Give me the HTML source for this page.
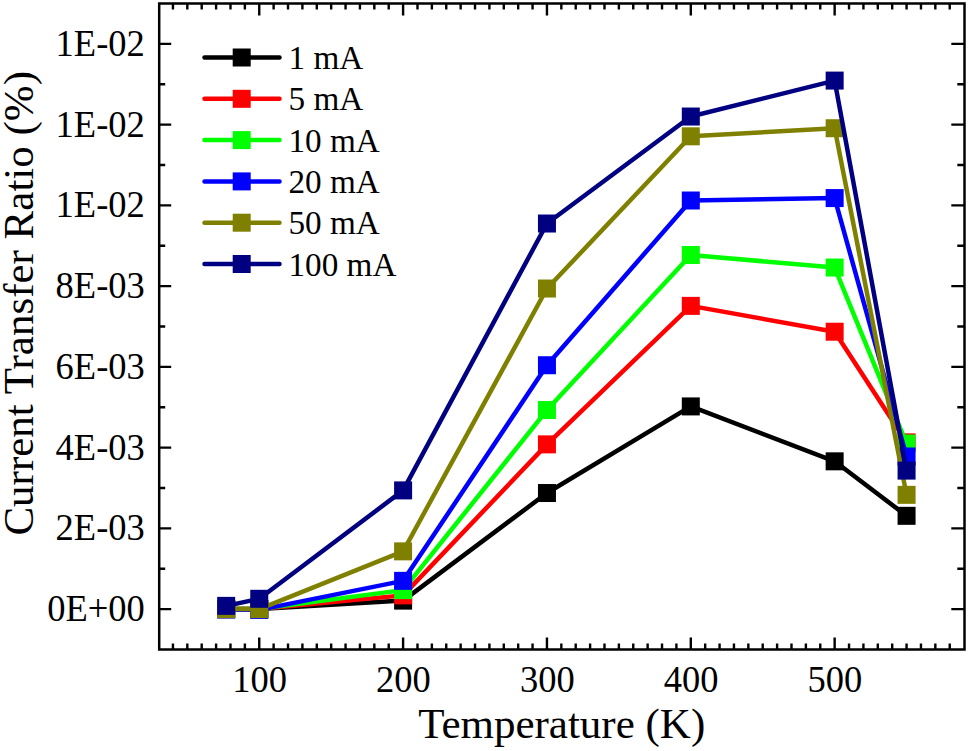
<!DOCTYPE html><html><head><meta charset="utf-8"><style>html,body{margin:0;padding:0;background:#fff;}svg{display:block;}text{font-family:"Liberation Serif",serif;fill:#000;}</style></head><body>
<svg width="968" height="751" viewBox="0 0 968 751">
<rect width="968" height="751" fill="#fff"/>
<path d="M172.94 649.50V643.50M172.94 3.50V9.50M187.32 649.50V643.50M187.32 3.50V9.50M201.71 649.50V643.50M201.71 3.50V9.50M216.09 649.50V643.50M216.09 3.50V9.50M230.48 649.50V643.50M230.48 3.50V9.50M244.87 649.50V643.50M244.87 3.50V9.50M259.25 649.50V637.50M259.25 3.50V15.50M273.63 649.50V643.50M273.63 3.50V9.50M288.02 649.50V643.50M288.02 3.50V9.50M302.40 649.50V643.50M302.40 3.50V9.50M316.79 649.50V643.50M316.79 3.50V9.50M331.17 649.50V643.50M331.17 3.50V9.50M345.56 649.50V643.50M345.56 3.50V9.50M359.94 649.50V643.50M359.94 3.50V9.50M374.33 649.50V643.50M374.33 3.50V9.50M388.72 649.50V643.50M388.72 3.50V9.50M403.10 649.50V637.50M403.10 3.50V15.50M417.49 649.50V643.50M417.49 3.50V9.50M431.87 649.50V643.50M431.87 3.50V9.50M446.25 649.50V643.50M446.25 3.50V9.50M460.64 649.50V643.50M460.64 3.50V9.50M475.02 649.50V643.50M475.02 3.50V9.50M489.41 649.50V643.50M489.41 3.50V9.50M503.79 649.50V643.50M503.79 3.50V9.50M518.18 649.50V643.50M518.18 3.50V9.50M532.56 649.50V643.50M532.56 3.50V9.50M546.95 649.50V637.50M546.95 3.50V15.50M561.33 649.50V643.50M561.33 3.50V9.50M575.72 649.50V643.50M575.72 3.50V9.50M590.11 649.50V643.50M590.11 3.50V9.50M604.49 649.50V643.50M604.49 3.50V9.50M618.88 649.50V643.50M618.88 3.50V9.50M633.26 649.50V643.50M633.26 3.50V9.50M647.64 649.50V643.50M647.64 3.50V9.50M662.03 649.50V643.50M662.03 3.50V9.50M676.41 649.50V643.50M676.41 3.50V9.50M690.80 649.50V637.50M690.80 3.50V15.50M705.18 649.50V643.50M705.18 3.50V9.50M719.57 649.50V643.50M719.57 3.50V9.50M733.95 649.50V643.50M733.95 3.50V9.50M748.34 649.50V643.50M748.34 3.50V9.50M762.72 649.50V643.50M762.72 3.50V9.50M777.11 649.50V643.50M777.11 3.50V9.50M791.49 649.50V643.50M791.49 3.50V9.50M805.88 649.50V643.50M805.88 3.50V9.50M820.26 649.50V643.50M820.26 3.50V9.50M834.65 649.50V637.50M834.65 3.50V15.50M849.03 649.50V643.50M849.03 3.50V9.50M863.42 649.50V643.50M863.42 3.50V9.50M877.80 649.50V643.50M877.80 3.50V9.50M892.19 649.50V643.50M892.19 3.50V9.50M906.57 649.50V643.50M906.57 3.50V9.50M920.96 649.50V643.50M920.96 3.50V9.50M935.34 649.50V643.50M935.34 3.50V9.50M949.73 649.50V643.50M949.73 3.50V9.50M159.20 609.10H171.20M964.50 609.10H951.30M159.20 568.73H165.20M964.50 568.73H957.30M159.20 528.35H171.20M964.50 528.35H951.30M159.20 487.98H165.20M964.50 487.98H957.30M159.20 447.60H171.20M964.50 447.60H951.30M159.20 407.23H165.20M964.50 407.23H957.30M159.20 366.85H171.20M964.50 366.85H951.30M159.20 326.48H165.20M964.50 326.48H957.30M159.20 286.10H171.20M964.50 286.10H951.30M159.20 245.73H165.20M964.50 245.73H957.30M159.20 205.35H171.20M964.50 205.35H951.30M159.20 164.98H165.20M964.50 164.98H957.30M159.20 124.60H171.20M964.50 124.60H951.30M159.20 84.23H165.20M964.50 84.23H957.30M159.20 43.85H171.20M964.50 43.85H951.30" stroke="#000" stroke-width="2.4" fill="none"/>
<rect x="159.2" y="3.5" width="805.30" height="646.0" fill="none" stroke="#000" stroke-width="2.5"/>
<text transform="translate(259.55 692.3) scale(1 1.05)" font-size="36.5" text-anchor="middle">100</text>
<text transform="translate(403.40 692.3) scale(1 1.05)" font-size="36.5" text-anchor="middle">200</text>
<text transform="translate(547.25 692.3) scale(1 1.05)" font-size="36.5" text-anchor="middle">300</text>
<text transform="translate(691.10 692.3) scale(1 1.05)" font-size="36.5" text-anchor="middle">400</text>
<text transform="translate(834.95 692.3) scale(1 1.05)" font-size="36.5" text-anchor="middle">500</text>
<text transform="translate(144.8 621.00) scale(1 1.045)" font-size="36.5" text-anchor="end">0E+00</text>
<text transform="translate(144.8 540.25) scale(1 1.045)" font-size="36.5" text-anchor="end">2E-03</text>
<text transform="translate(144.8 459.50) scale(1 1.045)" font-size="36.5" text-anchor="end">4E-03</text>
<text transform="translate(144.8 378.75) scale(1 1.045)" font-size="36.5" text-anchor="end">6E-03</text>
<text transform="translate(144.8 298.00) scale(1 1.045)" font-size="36.5" text-anchor="end">8E-03</text>
<text transform="translate(144.8 217.25) scale(1 1.045)" font-size="36.5" text-anchor="end">1E-02</text>
<text transform="translate(144.8 136.50) scale(1 1.045)" font-size="36.5" text-anchor="end">1E-02</text>
<text transform="translate(144.8 55.75) scale(1 1.045)" font-size="36.5" text-anchor="end">1E-02</text>
<text x="561.7" y="738" font-size="43" text-anchor="middle">Temperature (K)</text>
<text transform="translate(33 303.3) rotate(-90)" x="0" y="0" font-size="43" text-anchor="middle">Current Transfer Ratio (%)</text>
<polyline points="226.16,609.10 259.25,609.10 403.10,600.62 546.95,493.02 690.80,406.42 834.65,461.33 906.57,515.83" fill="none" stroke="#000000" stroke-width="4.5" stroke-linejoin="round" stroke-linecap="round"/>
<rect x="217.16" y="600.10" width="18" height="18" fill="#000000"/>
<rect x="250.25" y="600.10" width="18" height="18" fill="#000000"/>
<rect x="394.10" y="591.62" width="18" height="18" fill="#000000"/>
<rect x="537.95" y="484.02" width="18" height="18" fill="#000000"/>
<rect x="681.80" y="397.42" width="18" height="18" fill="#000000"/>
<rect x="825.65" y="452.33" width="18" height="18" fill="#000000"/>
<rect x="897.57" y="506.83" width="18" height="18" fill="#000000"/>
<polyline points="226.16,609.10 259.25,609.10 403.10,595.37 546.95,444.37 690.80,305.88 834.65,331.72 906.57,442.35" fill="none" stroke="#ff0000" stroke-width="4.5" stroke-linejoin="round" stroke-linecap="round"/>
<rect x="217.16" y="600.10" width="18" height="18" fill="#ff0000"/>
<rect x="250.25" y="600.10" width="18" height="18" fill="#ff0000"/>
<rect x="394.10" y="586.37" width="18" height="18" fill="#ff0000"/>
<rect x="537.95" y="435.37" width="18" height="18" fill="#ff0000"/>
<rect x="681.80" y="296.88" width="18" height="18" fill="#ff0000"/>
<rect x="825.65" y="322.72" width="18" height="18" fill="#ff0000"/>
<rect x="897.57" y="433.35" width="18" height="18" fill="#ff0000"/>
<polyline points="226.16,609.10 259.25,609.10 403.10,590.12 546.95,410.05 690.80,255.01 834.65,267.53 906.57,443.56" fill="none" stroke="#00ff00" stroke-width="4.5" stroke-linejoin="round" stroke-linecap="round"/>
<rect x="217.16" y="600.10" width="18" height="18" fill="#00ff00"/>
<rect x="250.25" y="600.10" width="18" height="18" fill="#00ff00"/>
<rect x="394.10" y="581.12" width="18" height="18" fill="#00ff00"/>
<rect x="537.95" y="401.05" width="18" height="18" fill="#00ff00"/>
<rect x="681.80" y="246.01" width="18" height="18" fill="#00ff00"/>
<rect x="825.65" y="258.53" width="18" height="18" fill="#00ff00"/>
<rect x="897.57" y="434.56" width="18" height="18" fill="#00ff00"/>
<polyline points="226.16,609.50 259.25,609.91 403.10,580.84 546.95,365.24 690.80,200.51 834.65,198.08 906.57,456.48" fill="none" stroke="#0000ff" stroke-width="4.5" stroke-linejoin="round" stroke-linecap="round"/>
<rect x="217.16" y="600.50" width="18" height="18" fill="#0000ff"/>
<rect x="250.25" y="600.91" width="18" height="18" fill="#0000ff"/>
<rect x="394.10" y="571.84" width="18" height="18" fill="#0000ff"/>
<rect x="537.95" y="356.24" width="18" height="18" fill="#0000ff"/>
<rect x="681.80" y="191.51" width="18" height="18" fill="#0000ff"/>
<rect x="825.65" y="189.08" width="18" height="18" fill="#0000ff"/>
<rect x="897.57" y="447.48" width="18" height="18" fill="#0000ff"/>
<polyline points="226.16,609.10 259.25,609.10 403.10,551.36 546.95,288.52 690.80,136.31 834.65,128.23 906.57,494.84" fill="none" stroke="#808000" stroke-width="4.5" stroke-linejoin="round" stroke-linecap="round"/>
<rect x="217.16" y="600.10" width="18" height="18" fill="#808000"/>
<rect x="250.25" y="600.10" width="18" height="18" fill="#808000"/>
<rect x="394.10" y="542.36" width="18" height="18" fill="#808000"/>
<rect x="537.95" y="279.52" width="18" height="18" fill="#808000"/>
<rect x="681.80" y="127.31" width="18" height="18" fill="#808000"/>
<rect x="825.65" y="119.23" width="18" height="18" fill="#808000"/>
<rect x="897.57" y="485.84" width="18" height="18" fill="#808000"/>
<polyline points="226.16,605.87 259.25,598.80 403.10,490.40 546.95,223.52 690.80,116.53 834.65,80.59 906.57,470.61" fill="none" stroke="#000080" stroke-width="4.5" stroke-linejoin="round" stroke-linecap="round"/>
<rect x="217.16" y="596.87" width="18" height="18" fill="#000080"/>
<rect x="250.25" y="589.80" width="18" height="18" fill="#000080"/>
<rect x="394.10" y="481.40" width="18" height="18" fill="#000080"/>
<rect x="537.95" y="214.52" width="18" height="18" fill="#000080"/>
<rect x="681.80" y="107.53" width="18" height="18" fill="#000080"/>
<rect x="825.65" y="71.59" width="18" height="18" fill="#000080"/>
<rect x="897.57" y="461.61" width="18" height="18" fill="#000080"/>
<line x1="204.5" y1="57.50" x2="279.5" y2="57.50" stroke="#000000" stroke-width="4.5" stroke-linecap="round"/>
<rect x="232.70" y="48.50" width="18" height="18" fill="#000000"/>
<text transform="translate(288.5 69.00) scale(1 1.04)" font-size="33.2">1 mA</text>
<line x1="204.5" y1="98.80" x2="279.5" y2="98.80" stroke="#ff0000" stroke-width="4.5" stroke-linecap="round"/>
<rect x="232.70" y="89.80" width="18" height="18" fill="#ff0000"/>
<text transform="translate(288.5 110.30) scale(1 1.04)" font-size="33.2">5 mA</text>
<line x1="204.5" y1="140.10" x2="279.5" y2="140.10" stroke="#00ff00" stroke-width="4.5" stroke-linecap="round"/>
<rect x="232.70" y="131.10" width="18" height="18" fill="#00ff00"/>
<text transform="translate(288.5 151.60) scale(1 1.04)" font-size="33.2">10 mA</text>
<line x1="204.5" y1="181.40" x2="279.5" y2="181.40" stroke="#0000ff" stroke-width="4.5" stroke-linecap="round"/>
<rect x="232.70" y="172.40" width="18" height="18" fill="#0000ff"/>
<text transform="translate(288.5 192.90) scale(1 1.04)" font-size="33.2">20 mA</text>
<line x1="204.5" y1="222.70" x2="279.5" y2="222.70" stroke="#808000" stroke-width="4.5" stroke-linecap="round"/>
<rect x="232.70" y="213.70" width="18" height="18" fill="#808000"/>
<text transform="translate(288.5 234.20) scale(1 1.04)" font-size="33.2">50 mA</text>
<line x1="204.5" y1="264.00" x2="279.5" y2="264.00" stroke="#000080" stroke-width="4.5" stroke-linecap="round"/>
<rect x="232.70" y="255.00" width="18" height="18" fill="#000080"/>
<text transform="translate(288.5 275.50) scale(1 1.04)" font-size="33.2">100 mA</text>
</svg></body></html>
